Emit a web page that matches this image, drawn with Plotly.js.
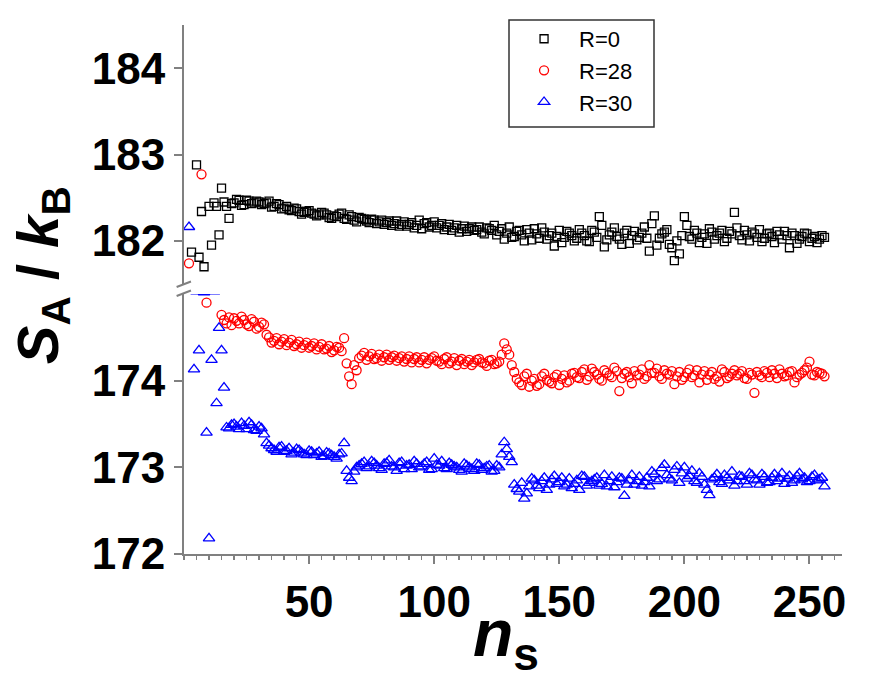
<!DOCTYPE html>
<html>
<head>
<meta charset="utf-8">
<script src="https://cdn.plot.ly/plotly-3.0.1.min.js"></script>
<style>html,body{margin:0;padding:0;background:#fff;}#chart{width:876px;height:686px;}</style>
</head>
<body>
<div id="chart"></div>
<script>
// n_s grids
var nsEven = [20,22,24,26,28,30,32,34,36,38,40,42,44,46,48,50,52,54,56,58,60,62,64,66,68,70,72,74,76,78,80,82,84,86,88,90,92,94,96,98,100,102,104,106,108,110,112,114,116,118,120,122,124,126,128,130,132,134,136,138,140,142,144,146,148,150,152,154,156,158,160,162,164,166,168,170,172,174,176,178,180,182,184,186,188,190,192,194,196,198,200,202,204,206,208,210,212,214,216,218,220,222,224,226,228,230,232,234,236,238,240,242,244,246,248,250,252,254,256];
var nsOdd = [21,23,25,27,29,31,33,35,37,39,41,43,45,47,49,51,53,55,57,59,61,63,65,67,69,71,73,75,77,79,81,83,85,87,89,91,93,95,97,99,101,103,105,107,109,111,113,115,117,119,121,123,125,127,129,131,133,135,137,139,141,143,145,147,149,151,153,155,157,159,161,163,165,167,169,171,173,175,177,179,181,183,185,187,189,191,193,195,197,199,201,203,205,207,209,211,213,215,217,219,221,223,225,227,229,231,233,235,237,239,241,243,245,247,249,251,253,255];

// R=0 (black squares)
var r0EarlyX = [3,5,6,7,8,10,11,12,13,14,15,16,17,18,19];
var r0EarlyY = [181.87,182.88,181.81,182.34,181.70,182.40,181.95,182.44,182.40,182.07,182.61,182.45,182.40,182.26,182.43];
var r0Even = [182.44,182.47,182.42,182.46,182.44,182.45,182.43,182.46,182.40,182.42,182.38,182.36,182.38,182.34,182.33,182.35,182.31,182.30,182.32,182.27,182.29,182.31,182.26,182.30,182.24,182.27,182.25,182.21,182.24,182.22,182.19,182.23,182.20,182.17,182.22,182.19,182.15,182.24,182.20,182.16,182.22,182.18,182.13,182.19,182.15,182.10,182.17,182.14,182.12,182.16,182.08,182.14,182.18,182.11,182.02,182.16,182.05,182.12,182.00,182.09,182.14,182.03,182.10,182.06,181.94,182.12,182.04,182.09,182.00,182.13,182.06,181.99,182.10,182.28,181.93,182.07,182.15,182.02,182.09,181.97,182.11,182.04,182.16,181.88,182.29,182.03,182.10,181.96,181.77,181.85,182.28,182.05,182.12,181.98,182.08,182.14,182.02,182.09,181.99,182.11,182.33,182.06,182.12,182.00,182.08,182.13,182.03,182.09,181.98,182.07,182.11,181.92,182.06,182.02,182.09,181.99,182.05,182.02,182.04];
var r0Odd = [182.48,182.41,182.47,182.43,182.46,182.42,182.44,182.39,182.43,182.37,
  182.40,182.35,182.37,182.31,182.34,182.32,182.29,182.33,182.30,182.26,
  182.28,182.32,182.25,182.28,182.22,182.26,182.23,182.25,182.20,182.24,
  182.21,182.18,182.23,182.19,182.17,182.21,182.18,182.14,182.21,182.18,
  182.15,182.20,182.16,182.12,182.18,182.14,182.11,182.16,182.13,182.10,
  182.15,182.12,182.07,182.14,182.09,182.04,182.11,182.07,182.13,182.01,
  182.08,182.15,182.02,182.09,182.05,181.98,182.11,182.06,182.03,182.09,
  182.00,182.12,182.04,182.18,182.01,182.10,182.05,181.96,182.12,182.06,
  182.01,182.09,182.03,182.20,181.95,182.08,182.13,181.92,182.00,182.06,
  182.18,182.02,182.09,182.04,181.97,182.10,182.06,182.12,182.03,182.08,
  182.15,182.01,182.07,182.10,182.04,181.99,182.08,182.05,182.11,182.02,
  182.06,182.09,181.97,182.05,182.08,182.03,181.98,182.06];

// R=28 (red circles)
var r28EarlyX = [2,7,9,15,16,17,18,19];
var r28EarlyY = [181.74,182.77,174.90,174.76,174.70,174.66,174.73,174.64];
var r28Even = [174.72,174.66,174.70,174.63,174.68,174.62,174.65,174.50,174.46,174.42,174.48,174.44,174.40,174.45,174.41,174.38,174.43,174.39,174.36,174.40,174.35,174.38,174.49,174.05,174.18,174.26,174.32,174.28,174.25,174.30,174.27,174.24,174.29,174.26,174.22,174.28,174.25,174.21,174.27,174.24,174.28,174.22,174.25,174.20,174.26,174.23,174.19,174.24,174.21,174.25,174.20,174.23,174.19,174.22,174.43,174.30,174.10,173.98,174.05,173.93,174.02,173.96,174.08,173.99,174.04,173.95,174.06,174.00,174.09,174.03,174.13,174.05,174.10,174.02,174.12,174.06,174.15,173.88,174.08,174.04,174.11,174.07,174.02,174.18,174.09,174.05,174.12,174.07,173.96,174.10,174.04,174.13,174.06,173.98,174.11,174.07,174.02,173.99,174.10,174.05,174.12,174.08,174.03,174.09,173.86,174.06,174.11,174.04,174.08,174.13,174.05,174.10,173.98,174.07,174.12,174.22,174.06,174.09,174.05];
var r28Odd = [174.69,174.74,174.65,174.71,174.60,174.67,174.53,174.44,174.49,174.45,
  174.41,174.47,174.42,174.38,174.44,174.40,174.36,174.42,174.37,174.33,
  174.39,174.34,174.20,173.96,174.12,174.29,174.24,174.31,174.26,174.23,
  174.30,174.27,174.23,174.28,174.25,174.21,174.27,174.24,174.20,174.26,
  174.23,174.19,174.27,174.22,174.18,174.25,174.22,174.18,174.24,174.21,
  174.17,174.24,174.20,174.30,174.36,174.18,174.02,173.95,174.08,174.00,
  173.94,174.05,174.01,173.97,174.07,174.02,173.98,174.08,174.04,174.10,
  174.01,174.14,174.07,174.00,174.09,174.04,174.11,174.03,174.10,173.97,
  174.06,174.13,174.05,174.09,174.14,174.02,174.08,174.11,174.05,174.01,
  174.09,174.04,174.12,174.07,174.01,174.10,174.05,174.13,174.03,174.08,
  174.06,174.11,174.02,174.07,174.10,174.04,174.09,174.12,174.03,174.08,
  174.06,174.11,174.04,174.09,174.15,174.07,174.10,174.08];

// R=30 (blue triangles)
var r30EarlyX = [2,4,5,6,8,9,10,11,12,13,14,15,16,17,18,19];
var r30EarlyY = [182.16,174.13,175.03,174.35,175.02,173.40,172.18,174.24,175.03,173.74,174.61,174.35,173.92,173.46,173.45,173.49];
var r30Even = [173.50,173.44,173.48,173.52,173.43,173.47,173.38,173.25,173.20,173.23,173.18,173.22,173.17,173.20,173.15,173.19,173.14,173.18,173.13,173.16,173.12,173.15,173.28,172.88,172.95,173.02,173.06,173.01,173.05,172.99,173.04,173.08,173.00,173.05,172.98,173.03,173.07,173.00,173.04,172.97,173.10,173.02,172.99,173.05,173.01,172.97,173.04,173.00,172.96,173.03,172.99,173.02,172.96,173.00,173.29,173.12,172.80,172.72,172.64,172.78,172.85,172.76,172.88,172.80,172.90,172.83,172.78,172.87,172.81,172.74,172.89,172.82,172.86,172.79,172.91,172.84,172.77,172.88,172.67,172.85,172.80,172.89,172.83,172.78,172.92,172.86,173.03,172.87,172.97,172.82,173.00,172.90,172.84,172.93,172.80,172.68,172.88,172.83,172.91,172.85,172.79,172.90,172.84,172.93,172.86,172.80,172.89,172.83,172.92,172.87,172.81,172.90,172.85,172.93,172.88,172.84,172.91,172.86,172.78];
var r30Odd = [173.47,173.51,173.44,173.49,173.42,173.45,173.28,173.22,173.18,173.24,
  173.19,173.15,173.21,173.17,173.14,173.18,173.16,173.12,173.17,173.14,
  173.10,173.16,172.96,172.84,173.00,173.04,172.99,173.07,173.02,172.97,
  173.05,173.01,172.96,173.06,173.02,172.98,173.04,173.01,173.06,172.98,
  173.03,173.07,172.98,173.03,173.00,172.95,173.02,172.98,173.04,172.97,
  173.01,172.95,173.02,173.15,173.21,173.06,172.75,172.82,172.70,172.87,
  172.79,172.84,172.74,172.86,172.81,172.88,172.80,172.76,172.85,172.90,
  172.79,172.84,172.88,172.81,172.78,172.89,172.83,172.87,172.80,172.91,
  172.84,172.79,172.88,172.95,172.84,172.99,172.91,172.85,173.01,172.93,
  172.87,172.96,172.82,172.89,172.74,172.86,172.92,172.81,172.88,172.95,
  172.84,172.89,172.80,172.91,172.85,172.92,172.82,172.88,172.84,172.93,
  172.87,172.82,172.90,172.86,172.83,172.89,172.85,172.88];

var seriesNames = ['R=0','R=28','R=30'];
var xTicks = [50,100,150,200,250];
var upperTicks = [182,183,184];
var lowerTicks = [172,173,174];

var series = [
  {name: seriesNames[0], x: r0EarlyX.concat(nsEven, nsOdd), y: r0EarlyY.concat(r0Even, r0Odd), color: '#000000', symbol: 'square-open', size: 8},
  {name: seriesNames[1], x: r28EarlyX.concat(nsEven, nsOdd), y: r28EarlyY.concat(r28Even, r28Odd), color: '#ff0000', symbol: 'circle-open', size: 9},
  {name: seriesNames[2], x: r30EarlyX.concat(nsEven, nsOdd), y: r30EarlyY.concat(r30Even, r30Odd), color: '#0000ff', symbol: 'triangle-up-open', size: 10}
];

var traces = [];
series.forEach(function(s){
  ['y','y2'].forEach(function(ax){
    traces.push({
      type: 'scatter', mode: 'markers',
      x: s.x, y: s.y, xaxis: 'x', yaxis: ax,
      name: s.name, legendgroup: s.name,
      showlegend: ax === 'y2',
      marker: {symbol: s.symbol, size: s.size, color: s.color, line: {width: 1.3, color: s.color}},
      cliponaxis: true, hoverinfo: 'skip'
    });
  });
});

var axisColor = '#808080';
var fam = 'Liberation Sans, Arial, sans-serif';
var tickFont = {family: fam, size: 44, color: '#000', weight: 'bold'};

var layout = {
  width: 876, height: 686,
  margin: {l: 184, r: 34, t: 25, b: 132},
  paper_bgcolor: '#fff', plot_bgcolor: '#fff',
  showlegend: true,
  xaxis: {
    range: [0, 263], tickmode: 'array', tickvals: xTicks,
    showgrid: false, zeroline: false, showline: true, linecolor: axisColor, linewidth: 2,
    ticks: 'outside', ticklen: 8, tickwidth: 2, tickcolor: axisColor,
    minor: {tickmode: 'linear', tick0: 0, dtick: 5, ticks: 'outside', ticklen: 4, tickwidth: 1.5, tickcolor: axisColor, showgrid: false},
    tickfont: tickFont, anchor: 'y'
  },
  yaxis: {
    domain: [0, 0.4915], range: [172, 175], tickmode: 'array', tickvals: lowerTicks,
    showgrid: false, zeroline: false, showline: true, linecolor: axisColor, linewidth: 2,
    ticks: 'outside', ticklen: 8, tickwidth: 2, tickcolor: axisColor,
    tickfont: tickFont, anchor: 'x'
  },
  yaxis2: {
    domain: [0.5104, 1], range: [181.5, 184.5], tickmode: 'array', tickvals: upperTicks,
    showgrid: false, zeroline: false, showline: true, linecolor: axisColor, linewidth: 2,
    ticks: 'outside', ticklen: 8, tickwidth: 2, tickcolor: axisColor,
    tickfont: tickFont, anchor: 'x'
  },
  legend: {
    x: 0.494, y: 1.0133, xanchor: 'left', yanchor: 'top',
    bgcolor: 'rgba(0,0,0,0)', borderwidth: 0,
    font: {family: fam, size: 22, color: '#000'},
    itemwidth: 60, tracegroupgap: 0
  },
  shapes: [
    {type: 'rect', xref: 'paper', yref: 'paper', x0: (509-184)/658, x1: (654-184)/658, y0: (554-127)/529, y1: (554-20)/529,
     line: {color: '#333', width: 1.5}, fillcolor: 'rgba(0,0,0,0)', layer: 'above'},
    {type: 'line', xref: 'paper', yref: 'paper', x0: -0.0112, y0: (554-287)/529, x1: 0.0106, y1: (554-281.5)/529, line: {color: axisColor, width: 2}},
    {type: 'line', xref: 'paper', yref: 'paper', x0: -0.0112, y0: (554-296)/529, x1: 0.0106, y1: (554-290.5)/529, line: {color: axisColor, width: 2}}
  ],
  annotations: [
    {xref: 'paper', yref: 'paper', x: -0.2158, y: 0.527, xanchor: 'center', yanchor: 'middle',
     textangle: -90, showarrow: false,
     text: '<b><i>S</i><sub>A</sub> / <i>k</i><sub>B</sub></b>',
     font: {family: fam, size: 58, color: '#000'}},
    {xref: 'paper', yref: 'paper', x: 0.49, y: -0.159, xanchor: 'center', yanchor: 'middle',
     showarrow: false,
     text: '<b><i>n</i><sub>s</sub></b>',
     font: {family: fam, size: 66, color: '#000'}}
  ]
};

Plotly.newPlot('chart', traces, layout, {staticPlot: true, displayModeBar: false});
</script>
</body>
</html>
